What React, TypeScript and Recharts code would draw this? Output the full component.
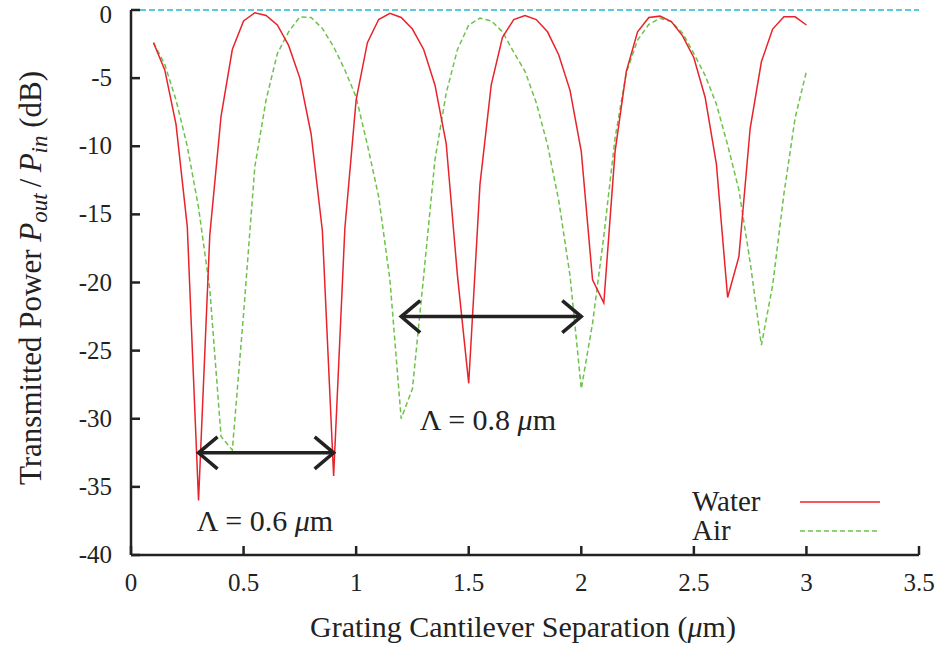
import { LineChart, Line, XAxis, YAxis, ReferenceLine, ReferenceDot, Label } from 'recharts'

// Transmitted power vs grating cantilever separation, water and air

const separation = [
  0.1, 0.15, 0.2, 0.25, 0.3, 0.35, 0.4, 0.45, 0.5, 0.55,
  0.6, 0.65, 0.7, 0.75, 0.8, 0.85, 0.9, 0.95, 1.0, 1.05,
  1.1, 1.15, 1.2, 1.25, 1.3, 1.35, 1.4, 1.45, 1.5, 1.55,
  1.6, 1.65, 1.7, 1.75, 1.8, 1.85, 1.9, 1.95, 2.0, 2.05,
  2.1, 2.15, 2.2, 2.25, 2.3, 2.35, 2.4, 2.45, 2.5, 2.55,
  2.6, 2.65, 2.7, 2.75, 2.8, 2.85, 2.9, 2.95, 3.0,
]

const waterDb = [
  -2.4, -4.4, -8.4, -15.9, -36.0, -16.5, -7.8, -2.9, -0.8, -0.2,
  -0.4, -1.1, -2.6, -5.0, -9.1, -16.2, -34.2, -16.0, -6.6, -2.4,
  -0.7, -0.25, -0.55, -1.4, -2.9, -5.5, -9.8, -19.5, -27.4, -12.8,
  -5.5, -2.0, -0.7, -0.4, -0.7, -1.6, -3.3, -5.9, -10.4, -19.8,
  -21.5, -10.4, -4.5, -1.6, -0.55, -0.45, -0.85, -1.9, -3.5, -6.4,
  -11.3, -21.1, -18.1, -8.7, -3.8, -1.4, -0.5, -0.5, -1.1,
]

const airDb = [
  -2.4, -4.0, -6.6, -10.0, -14.5, -20.5, -31.3, -32.3, -22.3, -11.5,
  -6.6, -3.2, -1.6, -0.5, -0.55, -1.35, -2.7, -4.4, -6.4, -9.9,
  -13.7, -19.8, -30.0, -27.8, -19.5, -11.0, -6.1, -2.9, -1.1, -0.6,
  -0.8, -1.6, -3.1, -4.5, -6.8, -9.9, -14.0, -19.5, -27.8, -23.0,
  -16.6, -9.4, -4.6, -2.2, -1.06, -0.6, -0.86, -1.7, -3.2, -4.8,
  -6.9, -9.9, -13.2, -18.5, -24.6, -20.2, -13.5, -7.9, -4.5,
]

const xTicks = [0, 0.5, 1, 1.5, 2, 2.5, 3, 3.5]
const yTicks = [-40, -35, -30, -25, -20, -15, -10, -5, 0]

// period annotations (double arrows + labels)
const periodStart = [0.3, 1.2]
const periodEnd = [0.9, 2.0]
const periodLevel = [-32.5, -22.5]
const periodText = ['0.6', '0.8']
const periodLabelX = [0.595, 1.585]
const periodLabelY = [-37.5, -30.1]

const data = separation.map((x, i) => ({ x, water: waterDb[i], air: airDb[i] }))

const FONT = '"Liberation Serif", "DejaVu Serif", serif'
const INK = '#222'
const RED = '#e8232a'
const GREEN = '#6cc24a'
const CYAN = '#5ec8dd'

const XTick = ({ x, y, payload }: any) => (
  <g>
    <line x1={x} x2={x} y1={y} y2={y - 9} stroke={INK} strokeWidth={2.5} />
    <text x={x} y={y + 36} textAnchor="middle" fontFamily={FONT} fontSize={25} fill={INK}>
      {String(payload.value)}
    </text>
  </g>
)

const YTick = ({ x, y, payload }: any) => (
  <g>
    <line x1={x} x2={x + 9} y1={y} y2={y} stroke={INK} strokeWidth={2.5} />
    <text x={x - 19} y={Math.max(y + 8, 23)} textAnchor="end" fontFamily={FONT} fontSize={25} fill={INK}>
      {String(payload.value)}
    </text>
  </g>
)

const DoubleArrow = (props: any) => {
  const { x1, y1, x2 } = props
  const ax = 19
  const ay = 16
  return (
    <g stroke={INK} strokeWidth={3.5} fill="none" strokeLinecap="butt">
      <line x1={x1} y1={y1} x2={x2} y2={y1} />
      <polyline points={`${x1 + ax},${y1 - ay} ${x1},${y1} ${x1 + ax},${y1 + ay}`} />
      <polyline points={`${x2 - ax},${y1 - ay} ${x2},${y1} ${x2 - ax},${y1 + ay}`} />
    </g>
  )
}

const PeriodLabel = (text: string) => (props: any) => (
  <text
    x={props.cx}
    y={props.cy + 10}
    textAnchor="middle"
    fontFamily={FONT}
    fontSize={30}
    fill={INK}
  >
    {'\u039B = ' + text + ' '}
    <tspan fontStyle="italic">{'\u03BC'}</tspan>
    {'m'}
  </text>
)

const XTitle = ({ viewBox }: any) => (
  <text
    x={viewBox.x + viewBox.width / 2 - 2}
    y={637}
    textAnchor="middle"
    fontFamily={FONT}
    fontSize={30}
    fill={INK}
  >
    {'Grating Cantilever Separation ('}
    <tspan fontStyle="italic">{'\u03BC'}</tspan>
    {'m)'}
  </text>
)

const YTitle = () => (
  <text
    transform="translate(41, 278) rotate(-90)"
    textAnchor="middle"
    fontFamily={FONT}
    fontSize={31}
    fill={INK}
  >
    {'Transmitted Power '}
    <tspan fontStyle="italic">P</tspan>
    <tspan fontStyle="italic" fontSize={23} dy={6}>out</tspan>
    <tspan dy={-6}>{'\u2009/\u2009'}</tspan>
    <tspan fontStyle="italic">P</tspan>
    <tspan fontStyle="italic" fontSize={23} dy={6}>in</tspan>
    <tspan dy={-6}>{'  (dB)'}</tspan>
  </text>
)

const LegendBox = () => (
  <div
    style={{
      position: 'absolute',
      left: 692,
      top: 487,
      fontFamily: FONT,
      fontSize: 29,
      color: INK,
      lineHeight: '29px',
    }}
  >
    <div style={{ display: 'flex', alignItems: 'center', height: 29 }}>
      <span style={{ width: 108 }}>Water</span>
      <svg width={80} height={4}>
        <line x1={0} x2={80} y1={2} y2={2} stroke={RED} strokeWidth={1.5} />
      </svg>
    </div>
    <div style={{ display: 'flex', alignItems: 'center', height: 29 }}>
      <span style={{ width: 108 }}>Air</span>
      <svg width={80} height={4}>
        <line x1={0} x2={80} y1={2} y2={2} stroke={GREEN} strokeWidth={1.5} strokeDasharray="5 3" />
      </svg>
    </div>
  </div>
)

export default function App() {
  return (
    <div style={{ position: 'relative', width: 935, height: 648, background: '#fff' }}>
      <style>{'body{margin:0}'}</style>
      <LineChart width={935} height={648} data={data} margin={{ top: 10, right: 16, bottom: 33, left: 0 }}>
        <XAxis
          dataKey="x"
          type="number"
          domain={[0, 3.5]}
          ticks={xTicks}
          height={60}
          tickSize={0}
          tickMargin={0}
          tickLine={false}
          tick={<XTick />}
          axisLine={{ stroke: INK, strokeWidth: 2.5 }}
          interval={0}
        >
          <Label content={<XTitle />} />
        </XAxis>
        <YAxis
          type="number"
          domain={[-40, 0]}
          ticks={yTicks}
          width={131}
          tickSize={0}
          tickMargin={0}
          tickLine={false}
          tick={<YTick />}
          axisLine={{ stroke: INK, strokeWidth: 2.5 }}
          interval={0}
        >
          <Label content={<YTitle />} />
        </YAxis>
        <ReferenceLine y={0} stroke={CYAN} strokeWidth={2} strokeDasharray="6 3" />
        <Line
          dataKey="air"
          type="linear"
          stroke={GREEN}
          strokeWidth={1.5}
          strokeDasharray="5 3"
          dot={false}
          isAnimationActive={false}
        />
        <Line
          dataKey="water"
          type="linear"
          stroke={RED}
          strokeWidth={1.5}
          dot={false}
          isAnimationActive={false}
        />
        {periodStart.map((s, i) => (
          <ReferenceLine
            key={`arrow-${i}`}
            segment={[
              { x: s, y: periodLevel[i] },
              { x: periodEnd[i], y: periodLevel[i] },
            ]}
            shape={DoubleArrow}
          />
        ))}
        {periodText.map((t, i) => (
          <ReferenceDot
            key={`lbl-${i}`}
            x={periodLabelX[i]}
            y={periodLabelY[i]}
            r={0}
            shape={PeriodLabel(t)}
          />
        ))}
      </LineChart>
      <LegendBox />
    </div>
  )
}
